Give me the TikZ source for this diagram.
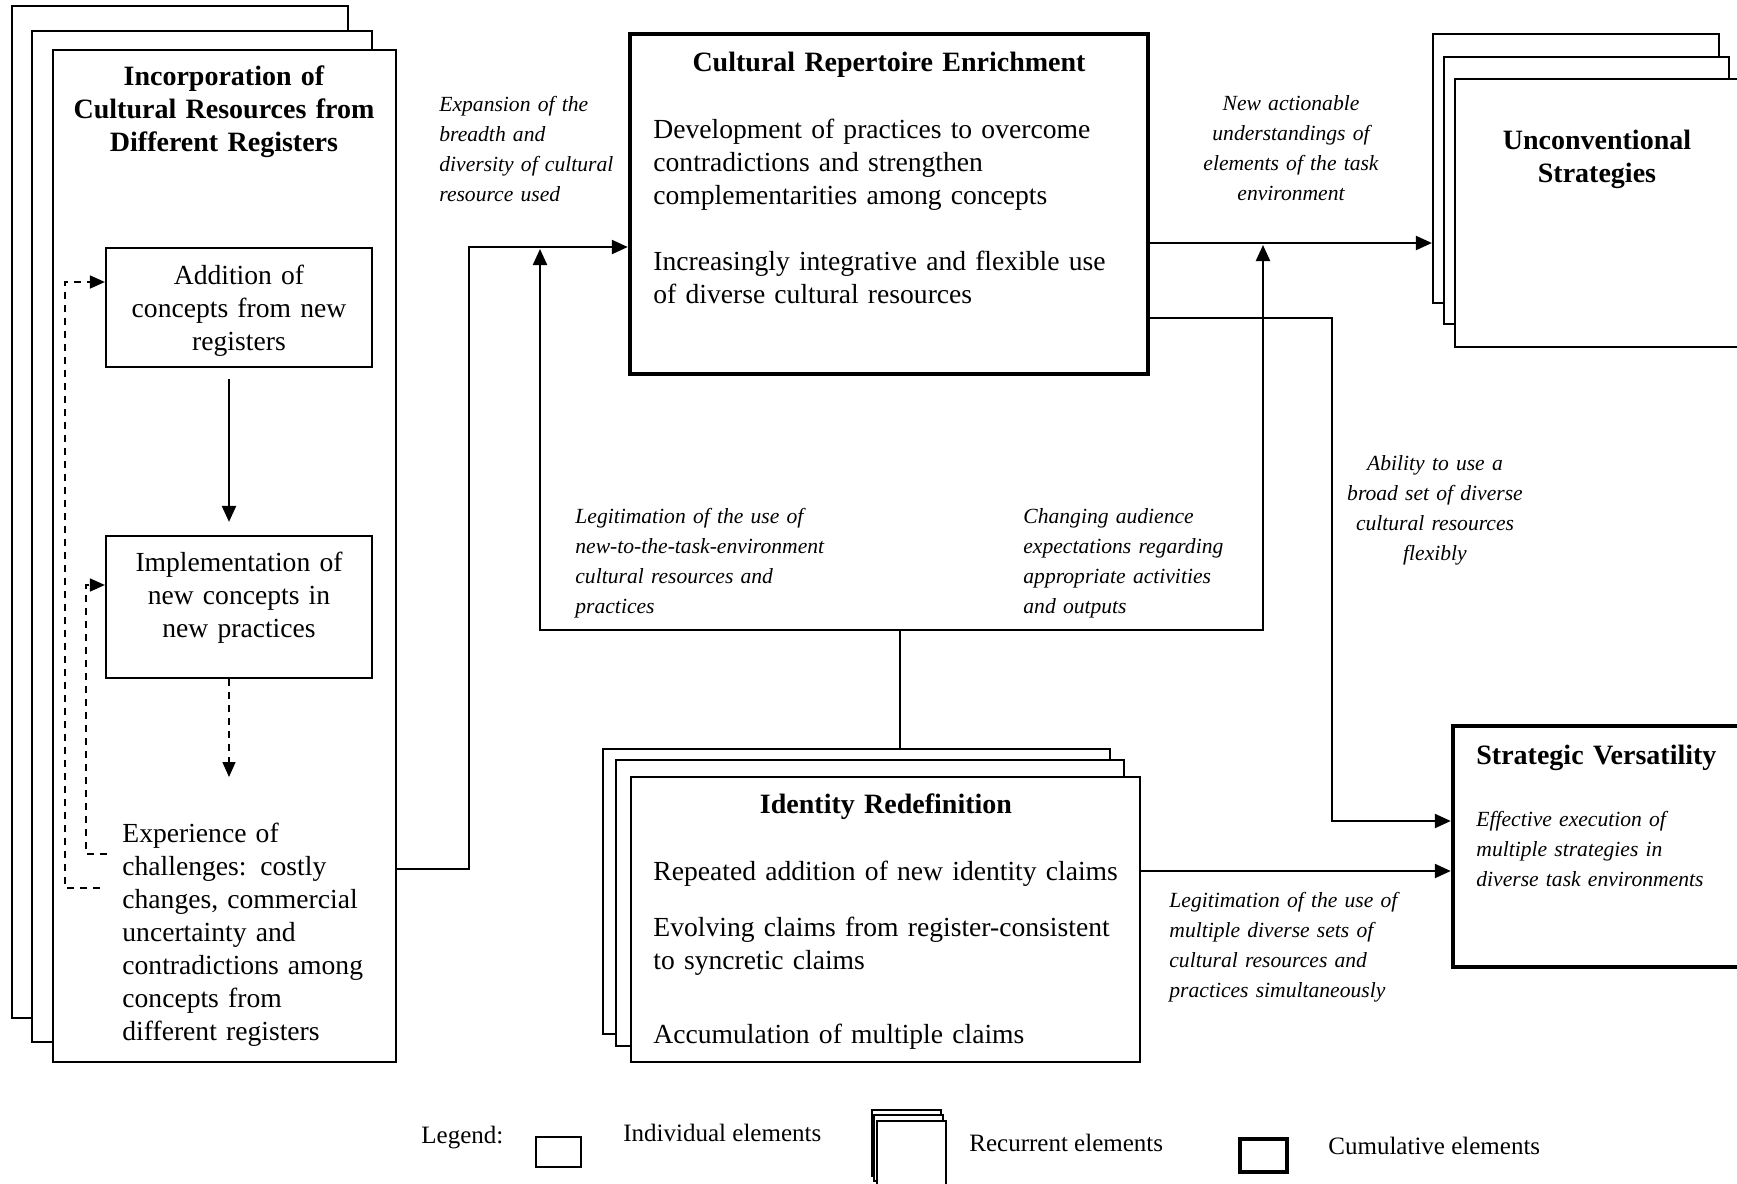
\documentclass[tikz,border=0pt]{standalone}
\usepackage{fontspec}
\setmainfont{Liberation Serif}
\usetikzlibrary{arrows.meta,fit}
\tikzset{
  box/.style={draw, line width=1.1pt, fill=white, inner sep=0pt},
  cumbox/.style={box, line width=2.2pt},
  thinbox/.style={box, line width=0.7pt},
  head/.style={font=\bfseries\fontsize{14}{16.5}\selectfont, text width=300pt, align=center, inner sep=0pt, anchor=base},
  body/.style={font=\fontsize{13.8}{16.5}\selectfont, text width=270pt, align=left, inner sep=0pt, anchor=base west},
  bodyc/.style={body, align=center, anchor=base},
  lab/.style={font=\itshape\fontsize{10.8}{15}\selectfont, text width=160pt, align=left, inner sep=0pt, anchor=base west},
  labc/.style={lab, align=center, anchor=base},
  legtext/.style={font=\fontsize{12.5}{15}\selectfont, inner sep=0pt, anchor=base west},
  arr/.style={-{Triangle[length=8pt,width=7pt]}, line width=1.1pt},
  fb/.style={-{Triangle[length=7.5pt,width=6.5pt]}, line width=0.8pt, dash pattern=on 3.5pt off 3pt},
}
\begin{document}
\begin{tikzpicture}[x=0.5pt,y=-0.5pt]
\useasboundingbox (0,0) rectangle (1737,1184);
\clip (0,0) rectangle (1737,1184);

% incorporation of cultural resources (recurrent)
\node[box, fit={(12,6) (348,1018)}] (inc-a) {};
\node[box, fit={(32,31) (372,1042)}] (inc-b) {};
\node[box, fit={(53,50) (396,1062)}] (inc) {};
\node[head] (inc-t) at (224,85) {Incorporation of\\Cultural Resources from\\Different Registers};
\node[box, fit={(106,248) (372,367)}] (add) {};
\node[bodyc] (add-t) at (239,284) {Addition of\\concepts from new\\registers};
\node[box, fit={(106,536) (372,678)}] (impl) {};
\node[bodyc] (impl-t) at (239,571) {Implementation of\\new concepts in\\new practices};
\node[body] (exp) at (122,842) {Experience of\\challenges: costly\\changes, commercial\\uncertainty and\\contradictions among\\concepts from\\different registers};
\coordinate (exp-in) at (229,777);
\coordinate (fb-out) at (100,888);
\coordinate (fb-in) at (107,854);
\draw[arr] ([xshift=-5pt,yshift=-5.5pt]add.south) -- ([xshift=-5pt,yshift=6.5pt]impl.north);
\draw[fb] ([xshift=-5pt]impl.south) -- (exp-in);
\draw[fb] (fb-out) -- ++(-35,0) |- ([yshift=12.75pt]add.west);
\draw[fb] (fb-in) -- ++(-21,0) |- ([yshift=11pt]impl.west);

% cultural repertoire enrichment
\node[cumbox, fit={(630,34) (1148,374)}] (cre) {};
\node[head] (cre-t) at (889,71) {Cultural Repertoire Enrichment};
\node[body] (cre-p1) at (653,138) {Development of practices to overcome\\contradictions and strengthen\\complementarities among concepts};
\node[body] (cre-p2) at (653,270) {Increasingly integrative and flexible use\\of diverse cultural resources};
\node[lab] (expand) at (439,111) {Expansion of the\\breadth and\\diversity of cultural\\resource used};
\draw[arr] ([yshift=-156.5pt]inc.east) -- ++(72,0) |- ([yshift=-21.5pt]cre.west);

% unconventional strategies
\node[box, fit={(1433,34) (1719,303)}] (unc-a) {};
\node[box, fit={(1444,57) (1729,324)}] (unc-b) {};
\node[box, fit={(1455,79) (1760,347)}] (unc) {};
\node[head] (unc-t) at (1597,149) {Unconventional\\Strategies};
\node[labc] (actionable) at (1291,110) {New actionable\\understandings of\\elements of the task\\environment};
\coordinate (cre-out) at ([yshift=-19.5pt]cre.east);
\draw[arr] (cre-out) -- (cre-out -| unc-a.west);

% strategic versatility
\node[cumbox, fit={(1453,726) (1760,967)}] (sv) {};
\node[body, font=\bfseries\fontsize{14}{16.5}\selectfont] (sv-t) at (1476,764) {Strategic Versatility};
\node[lab] (sv-p) at (1476,826) {Effective execution of\\multiple strategies in\\diverse task environments};
\node[labc] (ability) at (1435,470) {Ability to use a\\broad set of diverse\\cultural resources\\flexibly};
\draw[arr] ([yshift=-57pt]cre.east) -- ++(182,0) |- ([yshift=12.75pt]sv.west);

% identity redefinition (recurrent)
\node[box, fit={(603,749) (1110,1034)}] (ide-a) {};
\node[box, fit={(616,760) (1124,1046)}] (ide-b) {};
\node[box, fit={(631,777) (1140,1062)}] (ide) {};
\node[head] (ide-t) at (886,813) {Identity Redefinition};
\node[body] (ide-p1) at (653,880) {Repeated addition of new identity claims};
\node[body] (ide-p2) at (653,936) {Evolving claims from register-consistent\\to syncretic claims};
\node[body] (ide-p3) at (653,1043) {Accumulation of multiple claims};
\node[lab] (multiple) at (1169,907) {Legitimation of the use of\\multiple diverse sets of\\cultural resources and\\practices simultaneously};
\coordinate (ide-out) at ([yshift=24.25pt]ide.east);
\draw[arr] (ide-out) -- (ide-out -| sv.west);

% legitimation and audience expectations
\coordinate (fork) at (900,630);
\coordinate (leg-in) at (540,249);
\coordinate (aud-in) at (1263,245);
\draw[line width=1.1pt] ([xshift=21.75pt]ide-a.north) -- (fork);
\draw[arr] (fork) -| (leg-in);
\draw[arr] (fork) -| (aud-in);
\node[lab] (legit) at (575,523) {Legitimation of the use of\\new-to-the-task-environment\\cultural resources and\\practices};
\node[lab] (audience) at (1023,523) {Changing audience\\expectations regarding\\appropriate activities\\and outputs};

% legend
\node[legtext] (leg) at (421,1143) {Legend:};
\node[box, fit={(536,1137) (581,1167)}] (leg-ind) {};
\node[legtext] (leg-ind-t) at (623,1141) {Individual elements};
\node[thinbox, fit={(872,1110) (941,1176)}] (leg-rec-a) {};
\node[thinbox, fit={(874,1115) (943,1181)}] (leg-rec-b) {};
\node[thinbox, fit={(877,1121) (946,1195)}] (leg-rec) {};
\node[legtext] (leg-rec-t) at (969,1151) {Recurrent elements};
\node[cumbox, fit={(1240,1139) (1287,1172)}] (leg-cum) {};
\node[legtext] (leg-cum-t) at (1328,1154) {Cumulative elements};
\end{tikzpicture}
\end{document}
